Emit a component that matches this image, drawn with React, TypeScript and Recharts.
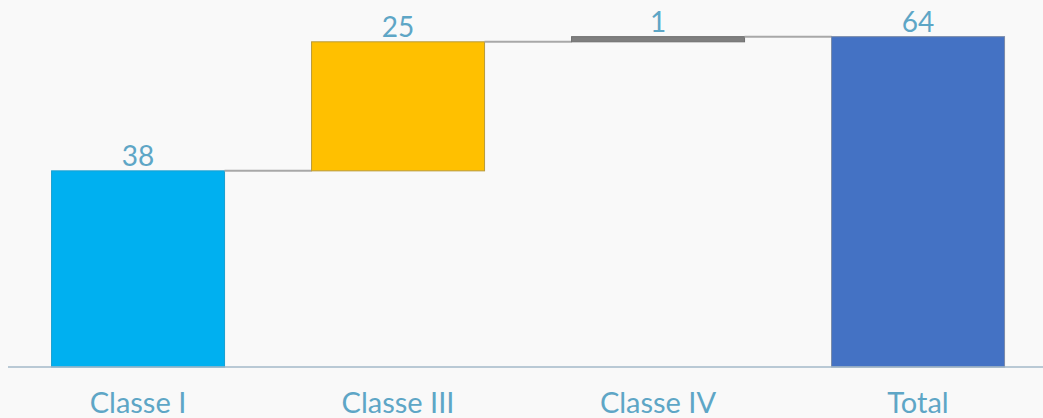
import React from "react";
import { BarChart, Bar, XAxis, YAxis, Cell, LabelList } from "recharts";

const categories = ["Classe I", "Classe III", "Classe IV", "Total"];
const baseValues = [0, 38, 63, 0];
const stepValues = [38, 25, 1, 64];
const barColors = ["#00b0f0", "#ffc000", "#7f7f7f", "#4472c4"];
const barEdges = ["#1a9fd0", "#b89a3a", "#6f6f6f", "#7a8aa8"];

const data = categories.map((name, i) => ({
  name,
  base: baseValues[i],
  step: stepValues[i],
}));

// share of each category band left empty between neighbouring bars
const CATEGORY_GAP = 0.335;

function StepShape(props: any) {
  const { x, y, width, height, index } = props;
  const gap = (width * CATEGORY_GAP) / (1 - CATEGORY_GAP);
  return (
    <g>
      <rect
        x={x}
        y={y}
        width={width}
        height={height}
        fill={barColors[index]}
        stroke={barEdges[index]}
        strokeWidth={1}
      />
      {index < categories.length - 1 && (
        <line
          x1={x + width}
          x2={x + width + gap}
          y1={y}
          y2={y}
          stroke="#a8a8a8"
          strokeWidth={2}
        />
      )}
    </g>
  );
}

export default function App() {
  return (
    <div
      style={{
        position: "absolute",
        left: 0,
        top: 0,
        width: 1043,
        height: 418,
        background: "#f9f9f9",
        overflow: "hidden",
      }}
    >
      <div style={{ position: "absolute", left: 8, top: 0 }}>
        <BarChart
          width={1040}
          height={418}
          data={data}
          margin={{ top: 16, right: 0, bottom: 0, left: 0 }}
          barCategoryGap={`${(CATEGORY_GAP * 100) / 2}%`}
        >
          <XAxis
            dataKey="name"
            height={51}
            tickLine={false}
            tickSize={0}
            tickMargin={25}
            axisLine={{ stroke: "#a3b8c8", strokeWidth: 1.5 }}
            tick={{ fill: "#5ea6c6", fontSize: 29, fontFamily: "Lato" }}
          />
          <YAxis hide domain={[0, 68]} />
          <Bar dataKey="base" stackId="w" fill="transparent" isAnimationActive={false} />
          <Bar
            dataKey="step"
            stackId="w"
            isAnimationActive={false}
            shape={<StepShape />}
          >
            {data.map((d, i) => (
              <Cell key={d.name} fill={barColors[i]} />
            ))}
            <LabelList
              dataKey="step"
              position="top"
              offset={5}
              fill="#5ea6c6"
              fontSize={28}
              fontFamily="Lato"
            />
          </Bar>
        </BarChart>
      </div>
    </div>
  );
}
